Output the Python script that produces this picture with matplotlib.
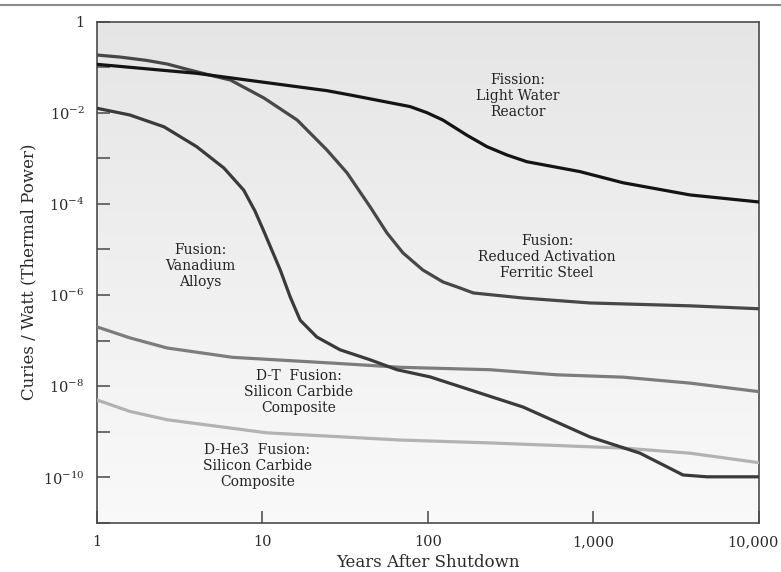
import numpy as np
import matplotlib
matplotlib.use("Agg")
import matplotlib.pyplot as plt
from matplotlib.lines import Line2D
from matplotlib.ticker import FixedLocator, FuncFormatter, NullLocator
from matplotlib.transforms import ScaledTranslation

plt.rcParams['font.family'] = ['DejaVu Serif']
plt.rcParams['mathtext.fontset'] = 'dejavuserif'

# activite residuelle (curies / watt thermique) selon les annees apres l'arret
fission_ans = [1, 4.0, 24.5, 34, 78, 98.6, 123, 172, 227, 300, 396, 828, 1510, 3830, 10000]
fission_val = [0.115, 0.073, 0.0304, 0.0244, 0.0136, 0.010, 6.9e-3, 3.2e-3, 1.8e-3,
               1.18e-3, 8.4e-4, 5.1e-4, 2.9e-4, 1.57e-4, 1.1e-4]

acier_ans = [1, 1.38, 2.0, 2.65, 3.5, 4.6, 6.4, 10.2, 16.2, 24.5, 32.4, 44.7, 56.5,
             70.6, 93, 123, 156, 188, 375, 953, 3830, 10000]
acier_val = [0.184, 0.166, 0.14, 0.117, 0.0895, 0.0695, 0.052, 0.021, 6.9e-3, 1.52e-3,
             4.8e-4, 8.6e-5, 2.3e-5, 8.4e-6, 3.55e-6, 1.94e-6, 1.43e-6, 1.11e-6,
             8.6e-7, 6.7e-7, 5.8e-7, 5.0e-7]

vanadium_ans = [1, 1.58, 2.54, 4.0, 5.85, 7.7, 9.0, 10.1, 12.8, 14.7, 16.9, 21.3, 29.4,
                44.7, 65, 103, 375, 953, 1910, 3475, 4850, 10000]
vanadium_val = [0.0125, 8.9e-3, 4.9e-3, 1.8e-3, 6.1e-4, 2.0e-4, 7.0e-5, 2.7e-5, 3.55e-6,
                9.1e-7, 2.8e-7, 1.2e-7, 6.3e-8, 3.8e-8, 2.3e-8, 1.6e-8, 3.5e-9,
                7.7e-10, 3.4e-10, 1.13e-10, 1.03e-10, 1.03e-10]

dt_ans = [1, 1.58, 2.65, 6.6, 27, 68, 237, 600, 1510, 3830, 10000]
dt_val = [2.0e-7, 1.15e-7, 6.9e-8, 4.3e-8, 3.2e-8, 2.6e-8, 2.3e-8, 1.78e-8, 1.58e-8,
          1.17e-8, 7.6e-9]

dhe3_ans = [1, 1.58, 2.65, 10.6, 68, 237, 1510, 3830, 10000]
dhe3_val = [5.0e-9, 2.8e-9, 1.84e-9, 9.5e-10, 6.6e-10, 5.7e-10, 4.4e-10, 3.4e-10, 2.1e-10]

annees_ticks = [1, 10, 100, 1000, 10000]
annees_labels = ['1', '10', '100', '1,000', '10,000']

fig = plt.figure(figsize=(7.81, 5.72), dpi=100)
ax = fig.add_axes([0.1242, 0.0857, 0.8476, 0.8767])

# fond degrade gris clair (plus fonce en haut)
g = np.linspace(0.9, 0.978, 256).reshape(-1, 1)
fond = np.dstack([g, g, g])
ax.imshow(fond, aspect='auto', extent=[0, 1, 0, 1], origin='upper',
          transform=ax.transAxes, zorder=0, interpolation='bilinear')

ax.plot(fission_ans, fission_val, color='#141414', lw=2.3, zorder=5)
ax.plot(acier_ans, acier_val, color='#474747', lw=2.3, zorder=4)
ax.plot(vanadium_ans, vanadium_val, color='#3a3a3a', lw=2.3, zorder=4)
ax.plot(dt_ans, dt_val, color='#7c7c7c', lw=2.3, zorder=3)
ax.plot(dhe3_ans, dhe3_val, color='#b2b2b2', lw=2.3, zorder=3)

ax.set_xscale('log')
ax.set_yscale('log')
ax.set_xlim(1, 10000)
ax.set_ylim(1e-11, 1)

ax.xaxis.set_major_locator(FixedLocator(annees_ticks))
ax.xaxis.set_minor_locator(NullLocator())
ax.set_xticklabels(annees_labels)

decades = [10.0 ** k for k in range(-11, 1)]
ax.yaxis.set_major_locator(FixedLocator(decades))
ax.yaxis.set_minor_locator(NullLocator())

def etiquette(v, pos):
    k = int(round(np.log10(v)))
    if k == 0:
        return '1'
    if k % 2 == 0 and k > -11:
        return r'$10^{%d}$' % k
    return ''

ax.yaxis.set_major_formatter(FuncFormatter(etiquette))

ax.tick_params(direction='in', length=9, width=1.2, color='#555555',
               labelsize=10.5, labelcolor='#2a2a2a')
ax.tick_params(axis='x', pad=9)
ax.tick_params(axis='y', pad=9)
for s in ax.spines.values():
    s.set_color('#4a4a4a')
    s.set_linewidth(1.2)

# le dernier libelle recule un peu pour rester dans la figure
dernier = ax.get_xticklabels()[-1]
dernier.set_transform(dernier.get_transform() + ScaledTranslation(-6 / 100, 0, fig.dpi_scale_trans))

ax.set_xlabel('Years After Shutdown', fontsize=12, color='#2a2a2a', labelpad=3)
ax.set_ylabel('Curies / Watt (Thermal Power)', fontsize=12, color='#2a2a2a', labelpad=4)

kw = dict(ha='center', va='center', fontsize=10, color='#222222', linespacing=1.15, zorder=6)
ax.text(350, 0.0232, 'Fission:\nLight Water\nReactor', **kw)
ax.text(524, 6.85e-6, 'Fusion:\nReduced Activation\nFerritic Steel', **kw)
ax.text(4.19, 4.35e-6, 'Fusion:\nVanadium\nAlloys', **kw)
ax.text(16.6, 7.5e-9, 'D-T  Fusion:\nSilicon Carbide\nComposite', **kw)
ax.text(9.3, 1.79e-10, 'D-He3  Fusion:\nSilicon Carbide\nComposite', **kw)

# filet en haut de la page
fig.add_artist(Line2D([0, 1], [0.991, 0.991], transform=fig.transFigure,
                      color='#8a8a8a', lw=1.5))

fig.savefig('out.png', dpi=100)
